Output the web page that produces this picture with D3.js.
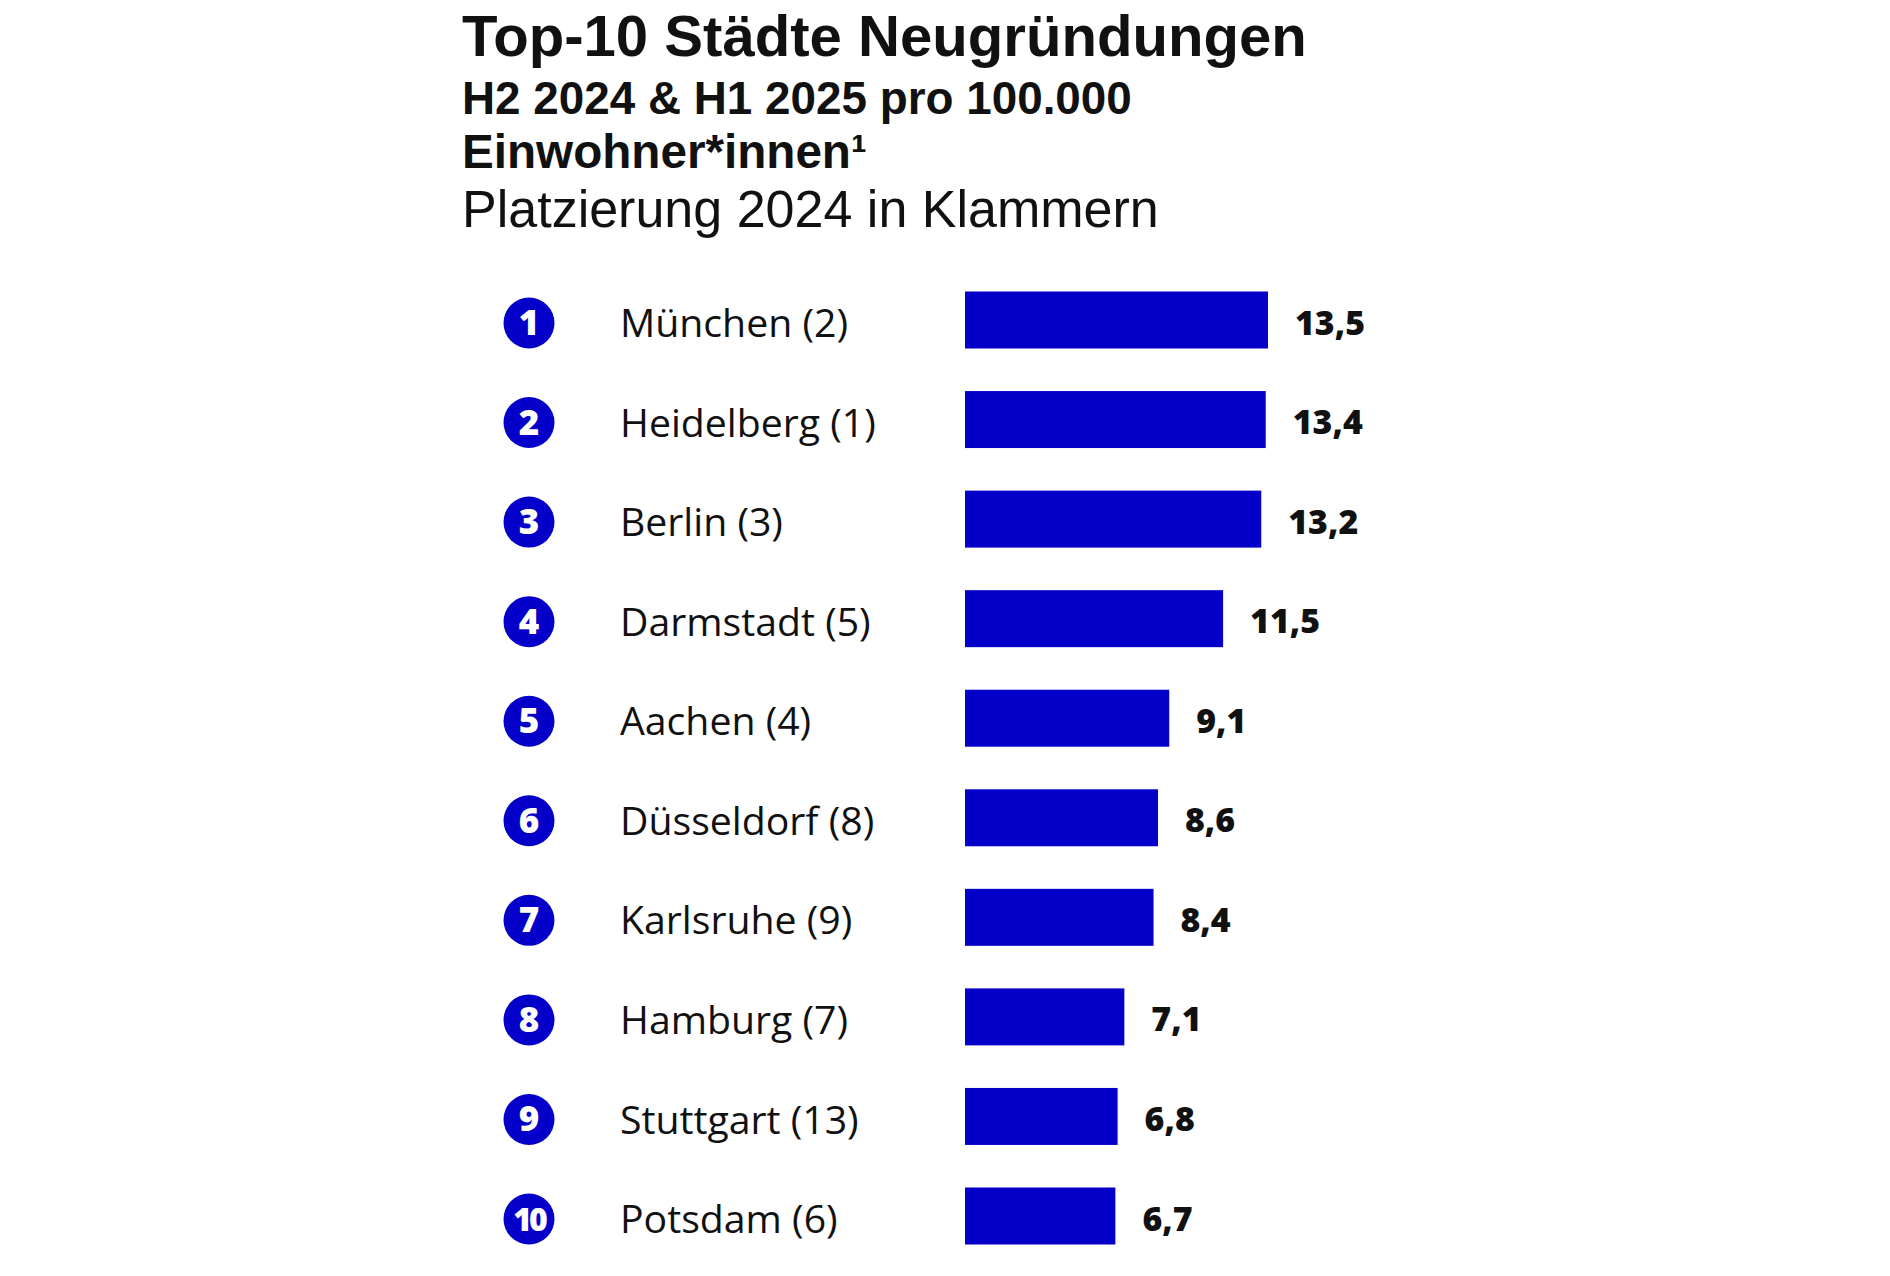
<!DOCTYPE html>
<html lang="de">
<head>
    <meta charset="UTF-8">
    <title>Top-10 Städte Neugründungen</title>
    <script src="https://d3js.org/d3.v7.min.js"></script>
    <style>
        body { margin: 0; background: #fff; }
        svg { display: block; }
        text { font-family: "Open Sans", "DejaVu Sans", sans-serif; fill: #111; }
        text.title { font-family: "Liberation Sans", Arial, sans-serif; }
    </style>
</head>
<body>
    <svg id="chart" width="1890" height="1276"></svg>
    <script>
        // Data
        const ranks = [1, 2, 3, 4, 5, 6, 7, 8, 9, 10];
        const cities = ["München", "Heidelberg", "Berlin", "Darmstadt", "Aachen",
                        "Düsseldorf", "Karlsruhe", "Hamburg", "Stuttgart", "Potsdam"];
        const prevRanks = [2, 1, 3, 5, 4, 8, 9, 7, 13, 6];
        const values = [13.5, 13.4, 13.2, 11.5, 9.1, 8.6, 8.4, 7.1, 6.8, 6.7];

        const titleLines = [
            { text: "Top-10 Städte Neugründungen", weight: 700, y: 56, w: 845 },
            { text: "H2 2024 & H1 2025 pro 100.000", weight: 700, y: 114, w: 670 },
            { text: "Einwohner*innen¹", weight: 700, y: 168, w: 405 },
            { text: "Platzierung 2024 in Klammern", weight: 400, y: 227, w: 697 }
        ];

        const blue = "#0500c9";
        const svg = d3.select("#chart");
        const rows = cities.map((c, i) => ({ rank: ranks[i], city: c, prev: prevRanks[i], value: values[i] }));

        const locale = d3.formatLocale({ decimal: ",", thousands: ".", grouping: [3], currency: ["", " €"] });
        const fmt = locale.format(".1f");

        const y = d3.scalePoint().domain(cities).range([323, 1219]);
        const x = d3.scaleLinear().domain([0, 13.5]).range([965, 1268]);
        const barH = 57;

        // scale a text's font size so it spans the target width
        function fitSize(text, weight, target, cls) {
            const t = svg.append("text").attr("class", cls || null)
                .attr("font-size", 100).attr("font-weight", weight).text(text);
            const len = t.node().getComputedTextLength();
            t.remove();
            return 100 * target / len;
        }

        // titles
        titleLines.forEach(l => {
            svg.append("text")
                .attr("class", "title")
                .attr("x", 462)
                .attr("y", l.y)
                .attr("font-weight", l.weight)
                .attr("font-size", fitSize(l.text, l.weight, l.w, "title"))
                .text(l.text);
        });

        const g = svg.append("g");
        const row = g.selectAll("g.row").data(rows).enter().append("g").attr("class", "row");

        // rank badges
        row.append("circle")
            .attr("cx", 529)
            .attr("cy", d => y(d.city))
            .attr("r", 25.5)
            .attr("fill", blue);

        row.append("text")
            .attr("x", 529)
            .attr("y", d => y(d.city) + 12)
            .attr("text-anchor", "middle")
            .attr("font-weight", 800)
            .attr("font-size", d => d.rank === 10 ? 32 : 35)
            .attr("letter-spacing", d => d.rank === 10 ? -3 : 0)
            .style("fill", "#fff")
            .text(d => d.rank);

        // city labels
        const citySize = fitSize("München (2)", 400, 228);
        row.append("text")
            .attr("x", 620)
            .attr("y", d => y(d.city) + citySize * 0.36)
            .attr("font-size", citySize)
            .text(d => `${d.city} (${d.prev})`);

        // bars
        row.append("rect")
            .attr("x", x(0))
            .attr("y", d => y(d.city) - barH / 2 - 3)
            .attr("width", d => x(d.value) - x(0))
            .attr("height", barH)
            .attr("fill", blue);

        // values
        const valSize = fitSize("13,5", 800, 70);
        row.append("text")
            .attr("x", d => x(d.value) + 27)
            .attr("y", d => y(d.city) + valSize * 0.34)
            .attr("font-weight", 800)
            .attr("font-size", valSize)
            .text(d => fmt(d.value));
    </script>
</body>
</html>
